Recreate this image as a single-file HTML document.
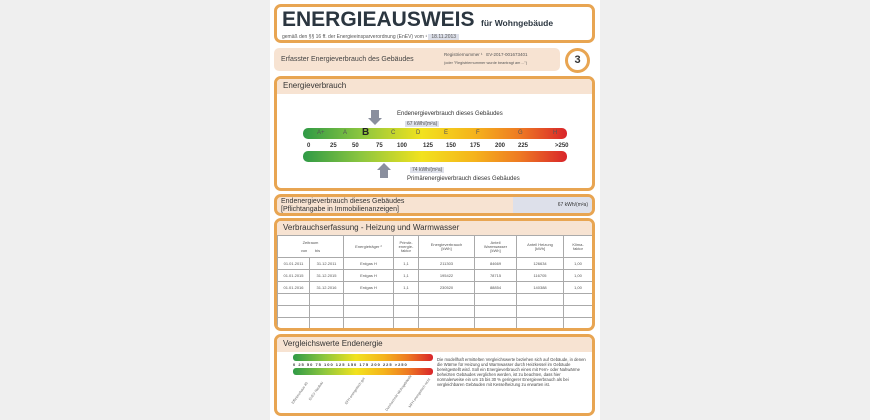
<!DOCTYPE html>
<html><head><meta charset="utf-8"><style>
body{margin:0;width:870px;height:420px;background:#efefef;position:relative;overflow:hidden;font-family:"Liberation Sans",sans-serif;color:#333}
.a{position:absolute}
.box{position:absolute;border:3px solid #e8a552;border-radius:7px;background:#fff;box-sizing:border-box;overflow:hidden}
.hd{position:absolute;left:0;right:0;top:0;background:#f7e3d2;font-size:8px;padding:2px 6px;color:#333}
.grad{background:linear-gradient(to right,#2f9a46,#8cc63f 22%,#f2e21e 45%,#f5b31c 65%,#ee7a23 82%,#d9252a)}
.t{font-size:5px;color:#555}
table{border-collapse:collapse;font-size:4px;line-height:4px;color:#555;table-layout:fixed}
td{border:1px solid #aaa;text-align:center;padding:0;overflow:hidden}
tr{height:12px}
</style></head><body>
<div class="a" style="left:270px;top:0;width:330px;height:420px;background:#fff"></div>
<div class="box" style="left:274px;top:4px;width:321px;height:39px">
 <div class="a" style="left:5px;top:1px;font-size:21px;font-weight:bold;color:#2b3640;letter-spacing:0">ENERGIEAUSWEIS</div>
 <div class="a" style="left:204px;top:11px;font-size:8.5px;font-weight:bold;color:#2b3640">für Wohngebäude</div>
 <div class="a t" style="left:5px;top:27px">gemäß den §§ 16 ff. der Energieeinsparverordnung (EnEV) vom ¹ <span style="background:#dde0ea;padding:0 3px">18.11.2013</span></div>
</div>
<div class="a" style="left:274px;top:48px;width:286px;height:23px;background:#f7e3d2;border-radius:5px">
 <div class="a" style="left:7px;top:8px;font-size:7px;color:#444">Erfasster Energieverbrauch des Gebäudes</div>
 <div class="a t" style="left:170px;top:4px;font-size:4.5px">Registriernummer ¹ &nbsp; EV-2017-001673401</div>
 <div class="a t" style="left:170px;top:13px;font-size:3.8px">(oder "Registriernummer wurde beantragt am ...")</div>
</div>
<div class="a" style="left:565px;top:48px;width:19px;height:19px;border:3px solid #e8a552;border-radius:50%;background:#fff;text-align:center;font-size:11px;font-weight:bold;line-height:19px">3</div>
<div class="box" style="left:274px;top:76px;width:321px;height:115px">
 <div class="hd" style="height:11px">Energieverbrauch</div>
 <div class="a" style="left:120px;top:32px;font-size:6px">Endenergieverbrauch dieses Gebäudes</div>
 <div class="a t" style="left:128px;top:42px;background:#dde0ea;padding:0 2px">67 kWh/(m²a)</div>
 <div class="a" style="left:94px;top:31px;width:8px;height:8px;background:#8a8f9e"></div>
 <div class="a" style="left:91px;top:39px;border-left:7px solid transparent;border-right:7px solid transparent;border-top:7px solid #8a8f9e"></div>
 <div class="a grad" style="left:26px;top:49px;width:264px;height:11px;border-radius:5px;font-size:6px;color:#555">
  <span class="a" style="left:14px;top:2px">A+</span><span class="a" style="left:40px;top:2px">A</span><span class="a" style="left:59px;top:-1px;font-size:10px;font-weight:bold;color:#222">B</span><span class="a" style="left:88px;top:2px">C</span><span class="a" style="left:113px;top:2px">D</span><span class="a" style="left:141px;top:2px">E</span><span class="a" style="left:173px;top:2px">F</span><span class="a" style="left:215px;top:2px">G</span><span class="a" style="left:250px;top:2px">H</span>
 </div>
 <div class="a" style="left:30px;top:64px;font-size:6px;font-weight:bold">
  <span class="a" style="left:0">0</span><span class="a" style="left:23px">25</span><span class="a" style="left:45px">50</span><span class="a" style="left:69px">75</span><span class="a" style="left:90px">100</span><span class="a" style="left:116px">125</span><span class="a" style="left:139px">150</span><span class="a" style="left:163px">175</span><span class="a" style="left:188px">200</span><span class="a" style="left:211px">225</span><span class="a" style="left:248px">&gt;250</span>
 </div>
 <div class="a grad" style="left:26px;top:72px;width:264px;height:11px;border-radius:5px"></div>
 <div class="a" style="left:100px;top:84px;border-left:7px solid transparent;border-right:7px solid transparent;border-bottom:7px solid #8a8f9e"></div>
 <div class="a" style="left:103px;top:91px;width:8px;height:8px;background:#8a8f9e"></div>
 <div class="a t" style="left:133px;top:88px;background:#dde0ea;padding:0 2px">74 kWh/(m²a)</div>
 <div class="a" style="left:130px;top:97px;font-size:6px">Primärenergieverbrauch dieses Gebäudes</div>
</div>
<div class="box" style="left:274px;top:194px;width:321px;height:22px;background:#f7e3d2">
 <div class="a" style="left:4px;top:1px;font-size:7px;line-height:8px">Endenergieverbrauch dieses Gebäudes<br>[Pflichtangabe in Immobilienanzeigen]</div>
 <div class="a" style="left:236px;top:0;width:79px;height:16px;background:#dde0ea;font-size:5px;text-align:right;line-height:16px;padding-right:4px;box-sizing:border-box">67 kWh/(m²a)</div>
</div>
<div class="box" style="left:274px;top:218px;width:321px;height:113px">
 <div class="hd" style="height:11px">Verbrauchserfassung - Heizung und Warmwasser</div>
 <table class="a" style="left:0;top:14px;width:315px">
  <colgroup><col style="width:32px"><col style="width:34px"><col style="width:50px"><col style="width:25px"><col style="width:56px"><col style="width:42px"><col style="width:47px"><col style="width:29px"></colgroup>
  <tr style="height:22px"><td colspan="2">Zeitraum<br><br>von &nbsp;&nbsp;&nbsp;&nbsp;&nbsp; bis</td><td>Energieträger ²</td><td>Primär-<br>energie-<br>faktor</td><td>Energieverbrauch<br>[kWh]</td><td>Anteil<br>Warmwasser<br>[kWh]</td><td>Anteil Heizung<br>[kWh]</td><td>Klima-<br>faktor</td></tr>
  <tr><td>01.01.2011</td><td>31.12.2011</td><td>Erdgas H</td><td>1,1</td><td>211303</td><td>84669</td><td>126634</td><td>1,00</td></tr>
  <tr><td>01.01.2015</td><td>31.12.2015</td><td>Erdgas H</td><td>1,1</td><td>195422</td><td>78715</td><td>116705</td><td>1,00</td></tr>
  <tr><td>01.01.2016</td><td>31.12.2016</td><td>Erdgas H</td><td>1,1</td><td>230520</td><td>88854</td><td>140388</td><td>1,00</td></tr>
  <tr><td></td><td></td><td></td><td></td><td></td><td></td><td></td><td></td></tr>
  <tr><td></td><td></td><td></td><td></td><td></td><td></td><td></td><td></td></tr>
  <tr><td></td><td></td><td></td><td></td><td></td><td></td><td></td><td></td></tr>
 </table>
</div>
<div class="box" style="left:274px;top:334px;width:321px;height:82px">
 <div class="hd" style="height:11px">Vergleichswerte Endenergie</div>
 <div class="a grad" style="left:16px;top:17px;width:140px;height:7px;border-radius:3px"></div>
 <div class="a" style="left:16px;top:25px;font-size:4px;font-weight:bold;width:140px;letter-spacing:1px">0 25 50 75 100 125 150 175 200 225 &gt;250</div>
 <div class="a grad" style="left:16px;top:31px;width:140px;height:7px;border-radius:3px"></div>
 <div class="a" style="left:10px;top:42px;width:150px;height:30px;font-size:3.5px;color:#666">
  <span class="a" style="left:0;top:12px;transform:rotate(-55deg)">Effizienzhaus 40</span>
  <span class="a" style="left:18px;top:10px;transform:rotate(-55deg)">EnEV Neubau</span>
  <span class="a" style="left:52px;top:10px;transform:rotate(-55deg)">EFH energetisch gut</span>
  <span class="a" style="left:90px;top:12px;transform:rotate(-55deg)">Durchschnitt Wohngebäude</span>
  <span class="a" style="left:115px;top:12px;transform:rotate(-55deg)">MFH energetisch nicht</span>
 </div>
 <div class="a" style="left:160px;top:20px;width:150px;font-size:4.2px;line-height:5px;color:#444">Die modellhaft ermittelten Vergleichswerte beziehen sich auf Gebäude, in denen die Wärme für Heizung und Warmwasser durch Heizkessel im Gebäude bereitgestellt wird. Soll ein Energieverbrauch eines mit Fern- oder Nahwärme beheizten Gebäudes verglichen werden, ist zu beachten, dass hier normalerweise ein um 15 bis 30 % geringerer Energieverbrauch als bei vergleichbaren Gebäuden mit Kesselheizung zu erwarten ist.</div>
</div>
</body></html>
